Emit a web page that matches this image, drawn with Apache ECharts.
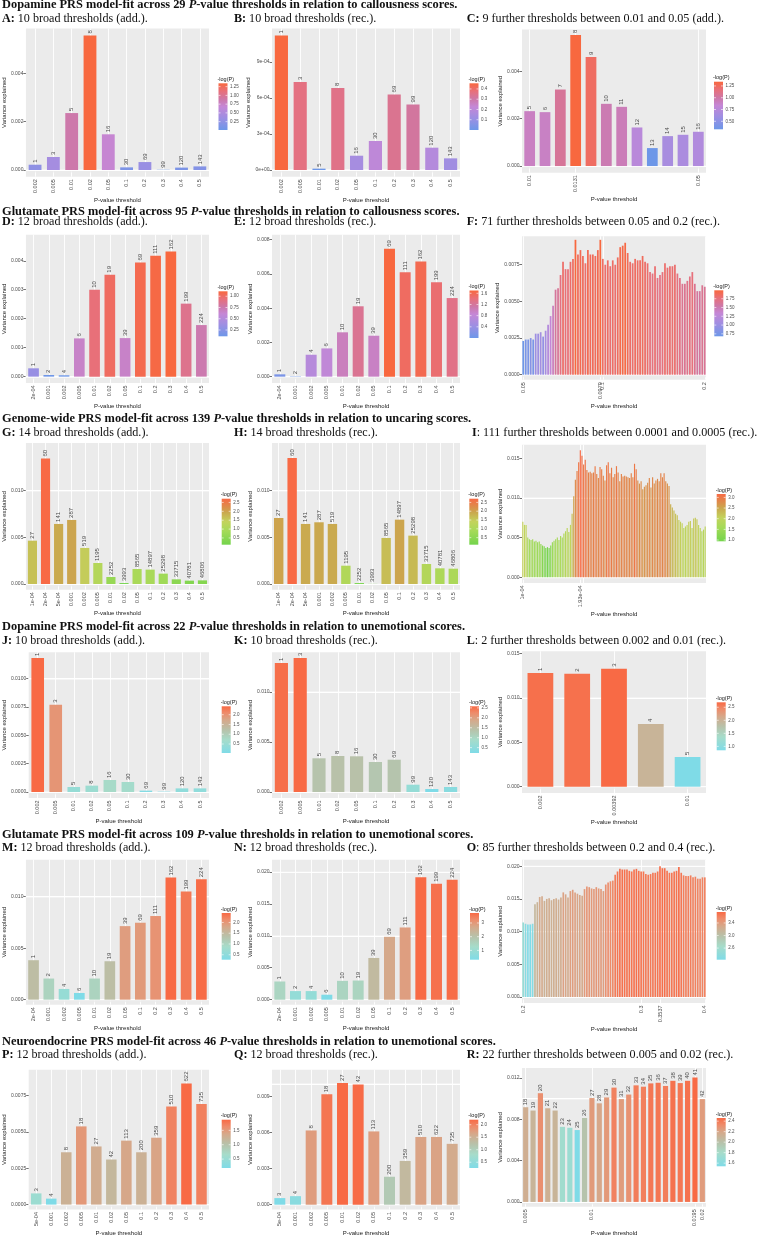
<!DOCTYPE html>
<html><head><meta charset="utf-8">
<script src="https://cdn.jsdelivr.net/npm/echarts@6/dist/echarts.min.js"></script>
<style>html,body{margin:0;padding:0;background:#fff}#c{width:759px;height:1237px}</style>
</head><body><div id="c"></div>
<script>
// ---------------- DATA ----------------
const broad10 = ['0.002','0.005','0.01','0.02','0.05','0.1','0.2','0.3','0.4','0.5'];
const snp10 = ['1','3','5','8','16','30','69','99','120','143'];
const broad12g = ['2e-04','0.001','0.002','0.005','0.01','0.02','0.05','0.1','0.2','0.3','0.4','0.5'];
const snp12g = ['1','2','4','6','10','19','39','69','111','162','199','224'];
const broad14 = ['1e-04','2e-04','5e-04','0.001','0.002','0.005','0.01','0.02','0.05','0.1','0.2','0.3','0.4','0.5'];
const snp14 = ['27','60','141','287','519','1195','2252','3993','8565','14897','25298','33715','40781','46806'];
const broad12n = ['5e-04','0.001','0.002','0.005','0.01','0.02','0.05','0.1','0.2','0.3','0.4','0.5'];
const snp12n = ['3','4','8','18','27','42','113','200','359','510','622','735'];

const valsA = [0.00022,0.00054,0.00236,0.00557,0.00148,0.00011,0.00033,0.00001,0.00010,0.00015];
const valsB = [0.001122,0.000733,0.000011,0.000683,0.000119,0.000242,0.00063,0.000547,0.000186,0.000097];
const valsC = [0.002316,0.002274,0.003228,0.00553,0.0046,0.002625,0.002498,0.001628,0.000758,0.001263,0.001319,0.001446];
const snpC = ['5','6','7','8','9','10','11','12','13','14','15','16'];
const xBreaksC = [[0,'0.01'],[3,'0.0131'],[11,'0.05']];

const valsD = [0.000287,0.000057,0.000046,0.00132,0.0030,0.00352,0.00133,0.00394,0.00417,0.00432,0.00252,0.00178];
const valsE = [0.000136,0.00002,0.00128,0.00165,0.00259,0.00411,0.00239,0.00747,0.00609,0.00672,0.00551,0.00459];
const valsF = [0.0023,0.0024,0.0024,0.0025,0.0024,0.0028,0.0028,0.0029,0.0026,0.0030,0.0034,0.0040,0.0047,
  0.0058,0.0059,0.0068,0.0077,0.0072,0.0072,0.0077,0.0079,0.0092,0.0082,0.0085,0.0081,0.0076,0.0085,0.0082,0.0082,0.0081,0.0085,0.0092,
  0.0079,0.0075,0.0078,0.0074,0.0078,0.0075,0.0080,0.0087,0.0088,0.0090,0.0083,0.0077,0.0076,0.0079,0.0078,0.0078,0.0081,0.0077,0.0076,
  0.0070,0.0069,0.0074,0.0066,0.0068,0.0070,0.0076,0.0073,0.0074,0.0074,0.0075,0.0069,0.0066,0.0062,0.0062,0.0064,0.0067,0.0070,0.0062,
  0.0057,0.0057,0.0061,0.0060];
const xBreaksF = [[0,'0.05'],[31,'0.0979'],[32,'0.1'],[73,'0.2']];

const valsG = [0.00464,0.01343,0.00643,0.00686,0.00386,0.00225,0.00075,0.0001,0.00161,0.00154,0.00111,0.0005,0.00036,0.00039];
const valsH = [0.00707,0.0135,0.00643,0.00661,0.00643,0.00196,0.0001,0.00001,0.00493,0.00689,0.00518,0.00214,0.00168,0.00164];
const valsI = [0.0070,0.0066,0.0066,0.0050,0.0048,0.0047,0.0048,0.0045,0.0046,0.0044,0.0045,0.0042,0.0040,0.0039,0.0037,0.0038,
  0.0037,0.0040,0.0044,0.0046,0.0048,0.0050,0.0047,0.0052,0.0050,0.0055,0.0058,0.0062,0.0057,0.0066,0.0080,
  0.0102,0.0123,0.0134,0.0145,0.0160,0.0153,0.0142,0.0148,0.0135,0.0132,0.0133,0.0131,0.0132,0.0140,0.0130,0.0125,0.0139,0.0136,
  0.0128,0.0122,0.0141,0.0145,0.0131,0.0138,0.0126,0.0130,0.0140,0.0132,0.0121,0.0130,0.0127,0.0128,0.0127,0.0126,0.0125,0.0131,
  0.0126,0.0143,0.0136,0.0122,0.0118,0.0121,0.0111,0.0114,0.0116,0.0119,0.0125,0.0113,0.0126,0.0118,0.0122,0.0124,0.0121,0.0131,
  0.0126,0.0131,0.0121,0.0118,0.0115,0.0092,0.0088,0.0084,0.0080,0.0078,0.0072,0.0070,0.0068,0.0062,0.0064,0.0066,0.0070,0.0071,
  0.0062,0.0074,0.0075,0.0073,0.0066,0.0062,0.0058,0.0060,0.0064];
const xBreaksI = [[0,'1e-04'],[35,'1.93e-04'],[37,'2e-04'],[112,'5e-04']];

const valsJ = [0.01182,0.0077,0.00044,0.00056,0.00106,0.00088,0.00012,0.00003,0.00032,0.00032];
const valsK = [0.0129,0.0134,0.00337,0.0036,0.00357,0.0030,0.00323,0.00073,0.0003,0.0005];
const valsL = [0.01282,0.01274,0.01331,0.00707,0.00335];
const snpL = ['1','2','3','4','5'];
const xBreaksL = [[0,'0.002'],[2,'0.00392'],[4,'0.01']];

const valsM = [0.00383,0.00205,0.00104,0.00065,0.00205,0.00373,0.00714,0.00747,0.00812,0.01185,0.01049,0.01169];
const valsN = [0.00285,0.00135,0.00135,0.00078,0.00295,0.0030,0.00653,0.00984,0.0113,0.01917,0.01813,0.01876];
const valsO = [0.0114,0.0112,0.0111,0.0111,0.0112,0.0142,0.0145,0.0153,0.0154,0.0147,0.0150,0.0151,0.0148,0.0150,0.0151,0.0149,
  0.0152,0.0160,0.0157,0.0152,0.0162,0.0164,0.0160,0.0158,0.0156,0.0155,0.0165,0.0169,0.0168,0.0166,0.0165,0.0168,0.0166,0.0165,
  0.0162,0.0172,0.0175,0.0177,0.0178,0.0187,0.0192,0.0196,0.0195,0.0195,0.0195,0.0193,0.0192,0.0195,0.0196,0.0193,0.0192,0.0192,
  0.0188,0.0187,0.0188,0.0190,0.0190,0.0192,0.0200,0.0197,0.0197,0.0193,0.0190,0.0190,0.0192,0.0193,0.0199,0.0190,0.0186,0.0185,
  0.0185,0.0186,0.0183,0.0184,0.0181,0.0181,0.0183,0.0183];
const xBreaksO = [[0,'0.2'],[50,'0.3'],[58,'0.3537'],[77,'0.4']];

const valsP = [0.00077,0.00041,0.0036,0.00538,0.0040,0.0031,0.0044,0.0036,0.0046,0.00674,0.00833,0.00692];
const valsQ = [0.00055,0.00071,0.00616,0.00916,0.01009,0.00998,0.00608,0.00232,0.00363,0.00562,0.00562,0.00505];
const valsR = [0.00917,0.00885,0.01053,0.00907,0.00885,0.00727,0.00718,0.00696,0.00813,0.01006,0.00955,0.01012,0.01107,
  0.00996,0.0104,0.01129,0.01116,0.01148,0.01154,0.01123,0.01173,0.01151,0.01173,0.01205,0.00996];
const snpR = ['18','19','20','21','22','23','24','25','26','27','28','29','30','31','32','33','34','35','36','37','38','39','40','41','42'];
const xBreaksR = [[0,'0.005'],[9,'0.01'],[23,'0.0195'],[24,'0.02']];

// y-axis ticks (values and labels) and ranges
const yT = {
 A:[[0,0.002,0.004],['0.000','0.002','0.004'],[-0.000277,0.005864]],
 B:[[0,0.0003,0.0006,0.0009],['0e+00','3e-04','6e-04','9e-04'],[-0.000056,0.00118]],
 C:[[0,0.002,0.004],['0.000','0.002','0.004'],[-0.00028,0.00576]],
 D:[[0,0.001,0.002,0.003,0.004],['0.000','0.001','0.002','0.003','0.004'],[-0.00022,0.0049]],
 E:[[0,0.002,0.004,0.006,0.008],['0.000','0.002','0.004','0.006','0.008'],[-0.00037,0.00829]],
 F:[[0,0.0025,0.005,0.0075],['0.0000','0.0025','0.0050','0.0075'],[-0.00034,0.00944]],
 G:[[0,0.005,0.01],['0.000','0.005','0.010'],[-0.00061,0.0151]],
 H:[[0,0.005,0.01],['0.000','0.005','0.010'],[-0.00061,0.0151]],
 I:[[0,0.005,0.01,0.015],['0.000','0.005','0.010','0.015'],[-0.00072,0.0167]],
 J:[[0,0.0025,0.005,0.0075,0.01],['0.0000','0.0025','0.0050','0.0075','0.0100'],[-0.00053,0.01233]],
 K:[[0,0.005,0.01],['0.000','0.005','0.010'],[-0.0006,0.01397]],
 L:[[0,0.005,0.01,0.015],['0.000','0.005','0.010','0.015'],[-0.00071,0.01527]],
 M:[[0,0.005,0.01],['0.000','0.005','0.010'],[-0.00049,0.01359]],
 N:[[0,0.005,0.01,0.015,0.02],['0.000','0.005','0.010','0.015','0.020'],[-0.00078,0.0219]],
 O:[[0,0.005,0.01,0.015,0.02],['0.000','0.005','0.010','0.015','0.020'],[-0.00092,0.021]],
 P:[[0,0.0025,0.005,0.0075],['0.0000','0.0025','0.0050','0.0075'],[-0.00034,0.00928]],
 Q:[[0,0.003,0.006,0.009],['0.000','0.003','0.006','0.009'],[-0.0004,0.0112]],
 R:[[0,0.004,0.008,0.012],['0.000','0.004','0.008','0.012'],[-0.00047,0.01297]]
};
// colour-bar legend ticks: values, labels, [min,max] of -log(P)
const legT = {
 A:[[0.25,0.5,0.75,1,1.25],['0.25','0.50','0.75','1.00','1.25'],[0.012,1.345]],
 B:[[0.1,0.2,0.3,0.4],['0.1','0.2','0.3','0.4'],[0.0,0.455]],
 C:[[0.5,0.75,1,1.25],['0.50','0.75','1.00','1.25'],[0.33,1.34]],
 D:[[0.25,0.5,0.75,1],['0.25','0.50','0.75','1.00'],[0.11,1.11]],
 E:[[0.4,0.8,1.2,1.6],['0.4','0.8','1.2','1.6'],[0.0,1.7]],
 F:[[0.75,1,1.25,1.5,1.75],['0.75','1.00','1.25','1.50','1.75'],[0.68,1.99]],
 G:[[0.5,1,1.5,2,2.5],['0.5','1.0','1.5','2.0','2.5'],[0.12,2.71]],
 H:[[0.5,1,1.5,2,2.5],['0.5','1.0','1.5','2.0','2.5'],[0.1,2.71]],
 I:[[1,1.5,2,2.5,3],['1.0','1.5','2.0','2.5','3.0'],[0.94,3.16]],
 J:[[0.5,1,1.5,2],['0.5','1.0','1.5','2.0'],[0.04,2.43]],
 K:[[0.5,1,1.5,2,2.5],['0.5','1.0','1.5','2.0','2.5'],[0.23,2.58]],
 L:[[1,1.5,2,2.5],['1.0','1.5','2.0','2.5'],[0.85,2.69]],
 M:[[0.5,1,1.5,2],['0.5','1.0','1.5','2.0'],[0.27,2.44]],
 N:[[1,2,3],['1','2','3'],[0.32,3.73]],
 O:[[2.6,3.0,3.4],['2.6','3.0','3.4'],[2.23,3.75]],
 P:[[0.5,1,1.5],['0.5','1.0','1.5'],[0.19,1.87]],
 Q:[[0.5,1,1.5,2],['0.5','1.0','1.5','2.0'],[0.27,2.2]],
 R:[[1.6,1.8,2.0,2.2,2.4],['1.6','1.8','2.0','2.2','2.4'],[1.54,2.46]]
};

const headings = [
 ['Dopamine PRS model-fit across 29 ','P','-value thresholds in relation to callousness scores.'],
 ['Glutamate PRS model-fit across 95 ','P','-value thresholds in relation to callousness scores.'],
 ['Genome-wide PRS model-fit across 139 ','P','-value thresholds in relation to uncaring scores.'],
 ['Dopamine PRS model-fit across 22 ','P','-value thresholds in relation to unemotional scores.'],
 ['Glutamate PRS model-fit across 109 ','P','-value thresholds in relation to unemotional scores.'],
 ['Neuroendocrine PRS model-fit across 46 ','P','-value thresholds in relation to unemotional scores.']
];
const subtitles = {
 A:['A:',' 10 broad thresholds (add.).'], B:['B:',' 10 broad thresholds (rec.).'], C:['C:',' 9 further thresholds between 0.01 and 0.05 (add.).'],
 D:['D:',' 12 broad thresholds (add.).'], E:['E:',' 12 broad thresholds (rec.).'], F:['F:',' 71 further thresholds between 0.05 and 0.2 (rec.).'],
 G:['G:',' 14 broad thresholds (add.).'], H:['H:',' 14 broad thresholds (rec.).'], I:['I',': 111 further thresholds between 0.0001 and 0.0005 (rec.).'],
 J:['J:',' 10 broad thresholds (add.).'], K:['K:',' 10 broad thresholds (rec.).'], L:['L',': 2 further thresholds between 0.002 and 0.01 (rec.).'],
 M:['M:',' 12 broad thresholds (add.).'], N:['N:',' 12 broad thresholds (rec.).'], O:['O',': 85 further thresholds between 0.2 and 0.4 (rec.).'],
 P:['P:',' 12 broad thresholds (add.).'], Q:['Q:',' 12 broad thresholds (rec.).'], R:['R:',' 22 further thresholds between 0.005 and 0.02 (rec.).']
};

// ---------------- STYLE / LAYOUT ----------------
const PAL = {
 cal:[[0,'#6d97e8'],[0.25,'#9c8fe3'],[0.5,'#c587d6'],[0.66,'#cd78a8'],[0.83,'#e8707a'],[1,'#f8683f']],
 gen:[[0,'#74d44c'],[0.3,'#a5da58'],[0.5,'#c3d35c'],[0.7,'#caa84e'],[0.86,'#e2854a'],[1,'#f86a45']],
 une:[[0,'#7fdbe7'],[0.28,'#a6dcca'],[0.5,'#b8c1a9'],[0.7,'#d5a98b'],[0.86,'#ee8b6a'],[1,'#f86a45']]
};
const COLX = [[24,209],[272,460],[522,706]];
const ROWS = [
 {ab:[28.5,176.7], c:[29.5,172.7], xn:196.7, head:5, sub:19},
 {ab:[234.7,383], c:[236.3,379.7], xn:404, head:211.3, sub:222},
 {ab:[443,589.7], c:[444.7,583], xn:611, head:419, sub:433},
 {ab:[652.3,798], c:[651.3,793], xn:818, head:627, sub:641.3},
 {ab:[859.7,1004.7], c:[859.7,1003], xn:1026, head:834.7, sub:848},
 {ab:[1069.7,1211.3], c:[1068,1209.7], xn:1233.7, head:1041.3, sub:1055.3}
];
const YNAMEX = [5,255,501];
const SUBX = [2,234,466.7];
const LEG = {
 A:[218.5,83.3,130], B:[469.5,83.3,130], C:[714,81.7,129.3],
 D:[218.5,291.3,336.3], E:[469.5,290.5,338], F:[714.3,290.3,336.3],
 G:[221.7,498.7,544.7], H:[469.3,498.7,544.7], I:[716.7,494,541.3],
 J:[221.7,706.3,753], K:[470,706.3,753], L:[716.7,702.3,750.3],
 M:[221.7,913,959.7], N:[470,913,959.7], O:[716.7,912,959.7],
 P:[221.7,1119.7,1168], Q:[469.3,1119.7,1168], R:[716.7,1118,1166.3]
};
const allBreaks = cats => cats.map((c,k)=>[k,c]);
const panels = [
 {k:'A', v:valsA, n:snp10, b:allBreaks(broad10), pal:'cal'},
 {k:'B', v:valsB, n:snp10, b:allBreaks(broad10), pal:'cal'},
 {k:'C', v:valsC, n:snpC, b:xBreaksC, pal:'cal'},
 {k:'D', v:valsD, n:snp12g, b:allBreaks(broad12g), pal:'cal'},
 {k:'E', v:valsE, n:snp12g, b:allBreaks(broad12g), pal:'cal'},
 {k:'F', v:valsF, n:null, b:xBreaksF, pal:'cal'},
 {k:'G', v:valsG, n:snp14, b:allBreaks(broad14), pal:'gen'},
 {k:'H', v:valsH, n:snp14, b:allBreaks(broad14), pal:'gen'},
 {k:'I', v:valsI, n:null, b:xBreaksI, pal:'gen'},
 {k:'J', v:valsJ, n:snp10, b:allBreaks(broad10), pal:'une'},
 {k:'K', v:valsK, n:snp10, b:allBreaks(broad10), pal:'une'},
 {k:'L', v:valsL, n:snpL, b:xBreaksL, pal:'une'},
 {k:'M', v:valsM, n:snp12g, b:allBreaks(broad12g), pal:'une'},
 {k:'N', v:valsN, n:snp12g, b:allBreaks(broad12g), pal:'une'},
 {k:'O', v:valsO, n:null, b:xBreaksO, pal:'une'},
 {k:'P', v:valsP, n:snp12n, b:allBreaks(broad12n), pal:'une'},
 {k:'Q', v:valsQ, n:snp12n, b:allBreaks(broad12n), pal:'une'},
 {k:'R', v:valsR, n:snpR, b:xBreaksR, pal:'une'}
];

const SANS = 'Liberation Sans, Arial, sans-serif';
const SERIF = 'Liberation Serif, Times New Roman, serif';
const HEAD_FS = 12.4, SUB_FS = 12.1;

function hex(h){return [parseInt(h.slice(1,3),16),parseInt(h.slice(3,5),16),parseInt(h.slice(5,7),16)];}
function colorAt(stops,t){
  for(let k=1;k<stops.length;k++){
    if(t<=stops[k][0]){
      const p0=stops[k-1][0],p1=stops[k][0],a=hex(stops[k-1][1]),b=hex(stops[k][1]);
      const f=(t-p0)/(p1-p0);
      return 'rgb('+a.map((x,j)=>Math.round(x+(b[j]-x)*f)).join(',')+')';
    }
  }
  return stops[stops.length-1][1];
}
function ramp(stops){const out=[];for(let k=0;k<=24;k++)out.push(colorAt(stops,Math.sqrt(k/24)));return out;}

const grids=[],xAxes=[],yAxes=[],series=[],visualMaps=[],gfx=[];

panels.forEach((p,i)=>{
  const col=i%3,row=Math.floor(i/3),R=ROWS[row];
  const [x0,x1]=COLX[col];
  const [y0,y1]= col===2?R.c:R.ab;
  const [ticks,tlabels,yr]=yT[p.k];
  grids.push({left:x0,top:y0,width:x1-x0,height:y1-y0,show:true,backgroundColor:'#EBEBEB',borderWidth:0});
  const cats=p.v.map((_,j)=>'c'+j);
  const lab={}; p.b.forEach(([j,t])=>{lab[j]=t;});
  const isB=(j)=>lab[j]!==undefined;
  xAxes.push({type:'category',gridIndex:i,data:cats,
    axisLine:{show:false},
    axisTick:{show:true,alignWithLabel:true,interval:isB,length:2.5,lineStyle:{color:'#333',width:0.7}},
    axisLabel:{show:true,interval:isB,formatter:(v,j)=>lab[j]||'',rotate:90,fontSize:5.5,fontFamily:SANS,color:'#4d4d4d',margin:2.5},
    splitLine:{show:false},
    name:'P-value threshold',nameLocation:'middle',nameGap:R.xn-y1-3,
    nameTextStyle:{fontSize:6,fontFamily:SANS,color:'#1a1a1a'}});
  yAxes.push({type:'value',gridIndex:i,min:yr[0],max:yr[1],
    axisLine:{show:false},
    axisTick:{show:true,customValues:ticks,length:2.5,lineStyle:{color:'#333',width:0.7}},
    axisLabel:{show:true,customValues:ticks,fontSize:5,fontFamily:SANS,color:'#4d4d4d',margin:2.5,
      formatter:(v)=>{const j=ticks.findIndex(t=>Math.abs(t-v)<1e-9);return j>=0?tlabels[j]:'';}},
    splitLine:{show:false},
    name:'Variance explained',nameLocation:'middle',nameGap:x0-YNAMEX[col]-3,
    nameTextStyle:{fontSize:6,fontFamily:SANS,color:'#1a1a1a'}});
  // grid lines
  const step=ticks[1]-ticks[0];
  const minor=[];
  for(let j=-1;j<ticks.length+1;j++){const m=ticks[0]+(j+0.5)*step;if(m>yr[0]&&m<yr[1])minor.push(m);}
  const ml=[];
  minor.forEach(m=>ml.push({yAxis:m,lineStyle:{color:'#ffffff',width:0.45,type:'solid'}}));
  ticks.forEach(t=>ml.push({yAxis:t,lineStyle:{color:'#ffffff',width:0.9,type:'solid'}}));
  p.b.forEach(([j])=>ml.push({xAxis:'c'+j,lineStyle:{color:'#ffffff',width:0.9,type:'solid'}}));
  series.push({type:'line',xAxisIndex:i,yAxisIndex:i,data:[],silent:true,z:1,
    markLine:{silent:true,z:1,symbol:['none','none'],animation:false,label:{show:false},data:ml}});
  // bars
  series.push({type:'bar',xAxisIndex:i,yAxisIndex:i,data:p.v,barCategoryGap:'30%',z:10,
    label:{show:!!p.n,position:'top',rotate:90,align:'left',verticalAlign:'middle',distance:2,
      fontSize:6,fontFamily:SANS,color:'#4a4a4a',formatter:(prm)=>p.n?p.n[prm.dataIndex]:''}});
  visualMaps.push({type:'continuous',show:false,seriesIndex:series.length-1,dimension:1,
    min:Math.min(...p.v),max:Math.max(...p.v),inRange:{color:ramp(PAL[p.pal])}});
  // legend
  const [lx,lt,lb]=LEG[p.k];const lw=9;
  const [lv,ll,lr]=legT[p.k];
  gfx.push({type:'text',x:lx-1,y:lt-4,style:{text:'-log(P)',fontSize:5.5,fontFamily:SANS,fill:'#1a1a1a',align:'left',verticalAlign:'middle'}});
  const stops=PAL[p.pal].map(([o,c])=>({offset:o,color:c}));
  gfx.push({type:'rect',shape:{x:lx,y:lt,width:lw,height:lb-lt},style:{fill:{type:'linear',x:0,y:1,x2:0,y2:0,colorStops:stops}}});
  lv.forEach((t,j)=>{
    const yy=lb-(t-lr[0])/(lr[1]-lr[0])*(lb-lt);
    gfx.push({type:'line',shape:{x1:lx,y1:yy,x2:lx+2,y2:yy},style:{stroke:'#fff',lineWidth:0.6}});
    gfx.push({type:'line',shape:{x1:lx+lw-2,y1:yy,x2:lx+lw,y2:yy},style:{stroke:'#fff',lineWidth:0.6}});
    gfx.push({type:'text',x:lx+lw+2.5,y:yy,style:{text:ll[j],fontSize:4.5,fontFamily:SANS,fill:'#4d4d4d',align:'left',verticalAlign:'middle'}});
  });
  // subtitle
  const st=subtitles[p.k];
  gfx.push({type:'text',x:(p.k==='I'?472:SUBX[col]),y:R.sub,style:{text:'{b|'+st[0]+'}{r|'+st[1]+'}',align:'left',verticalAlign:'middle',
    rich:{b:{fontFamily:SERIF,fontWeight:'bold',fontSize:SUB_FS,fill:'#111'},r:{fontFamily:SERIF,fontSize:SUB_FS,fill:'#111'}}}});
});
headings.forEach((h,r)=>{
  gfx.push({type:'text',x:2,y:ROWS[r].head,style:{text:'{b|'+h[0]+'}{i|'+h[1]+'}{b|'+h[2]+'}',align:'left',verticalAlign:'middle',
    rich:{b:{fontFamily:SERIF,fontWeight:'bold',fontSize:HEAD_FS,fill:'#111'},i:{fontFamily:SERIF,fontWeight:'bold',fontStyle:'italic',fontSize:HEAD_FS,fill:'#111'}}}});
});

const chart=echarts.init(document.getElementById('c'),null,{renderer:'canvas'});
chart.setOption({animation:false,backgroundColor:'#ffffff',grid:grids,xAxis:xAxes,yAxis:yAxes,series:series,visualMap:visualMaps,graphic:{elements:gfx}});
</script></body></html>
